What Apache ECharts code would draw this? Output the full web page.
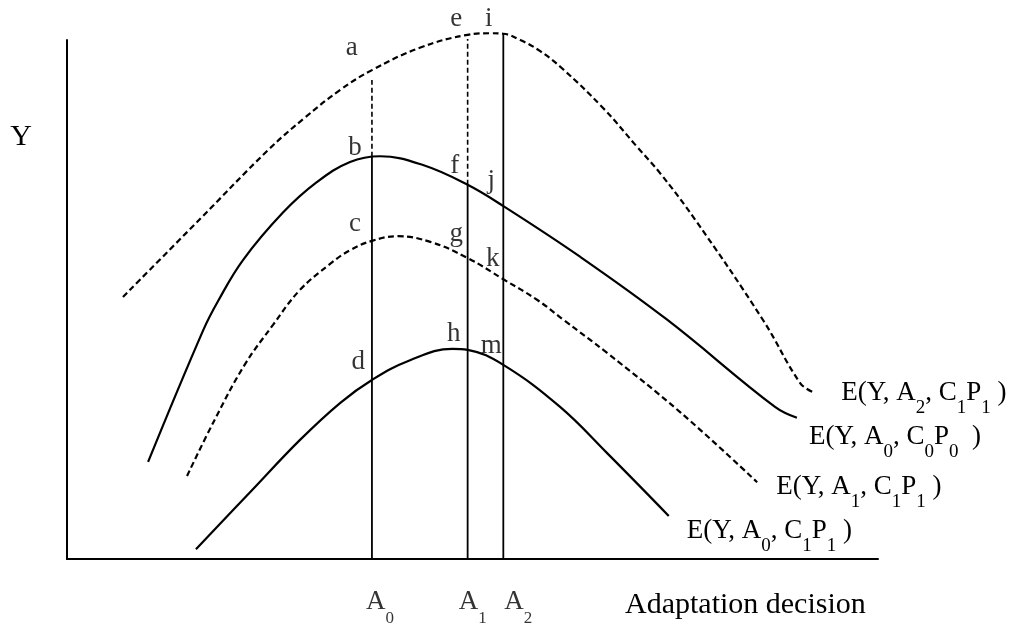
<!DOCTYPE html>
<html>
<head>
<meta charset="utf-8">
<title>Adaptation decision</title>
<script src="https://cdn.jsdelivr.net/npm/echarts@6/dist/echarts.min.js"></script>
<style>
  html, body { margin: 0; padding: 0; background: #fff; }
  #chart { width: 1017px; height: 625px; }
</style>
</head>
<body>
<div id="chart"></div>
<script>
const FONT = '"Liberation Serif", "Times New Roman", serif';

// E(Y, A2, C1P1) - upper dashed curve
const a2c1p1X = [6.9, 16.4, 24.8, 29.3, 33.7, 37.6, 43.5, 49.4, 52.2, 53.8, 55.9, 58.3, 61.0, 66.1, 70.3, 73.1, 77.4, 85.8, 90.4, 91.9];
const a2c1p1Y = [50.5, 65.5, 78.8, 85.0, 90.4, 94.2, 98.5, 101.0, 101.3, 101.2, 100.0, 97.9, 94.6, 86.9, 79.4, 74.4, 65.5, 46.1, 33.9, 32.2];

// E(Y, A0, C0P0) - solid curve
const a0c0p0X = [10.0, 16.8, 18.7, 21.7, 26.6, 30.8, 34.9, 38.6, 43.9, 49.4, 53.8, 63.3, 74.0, 87.3, 90.0];
const a0c0p0Y = [18.7, 44.1, 49.9, 57.6, 66.7, 72.6, 76.5, 77.6, 75.9, 72.1, 68.0, 58.2, 46.1, 29.3, 27.2];

// E(Y, A1, C1P1) - lower dashed curve
const a1c1p1X = [14.8, 18.2, 21.9, 25.4, 28.7, 32.4, 34.9, 37.6, 40.8, 44.8, 49.4, 53.8, 58.0, 61.2, 66.6, 75.6, 85.1];
const a1c1p1Y = [16.0, 26.8, 37.4, 45.1, 51.8, 56.8, 59.5, 61.3, 62.2, 61.1, 58.0, 53.9, 49.9, 46.1, 39.7, 28.3, 14.8];

// E(Y, A0, C1P1) - lowest solid curve
const a0c1p1X = [15.9, 22.6, 28.7, 33.7, 37.6, 42.3, 47.5, 49.4, 53.8, 60.8, 66.6, 74.2];
const a0c1p1Y = [1.9, 12.9, 22.9, 30.1, 34.5, 38.3, 40.5, 40.3, 37.4, 29.3, 20.4, 8.3];

// adaptation decisions A0, A1, A2 on the x axis
const decisionValues = [37.6, 49.4, 53.8];
const decisionLabels = ['A0', 'A1', 'A2'];
const solidTops = [77.5, 72.1, 101.2];
const dashedTops = [92.3, 100.2, null];

// letters marking the intersections
const pointNames = ['a', 'b', 'c', 'd', 'e', 'i', 'f', 'j', 'g', 'k', 'h', 'm'];
const pointX = [35.1, 35.5, 35.5, 35.9, 48.0, 52.0, 47.8, 52.3, 48.0, 52.5, 47.7, 52.3];
const pointY = [98.5, 79.2, 64.5, 38.0, 104.0, 104.0, 75.7, 72.8, 62.6, 57.8, 43.4, 41.0];

const zip = (xs, ys) => xs.map((x, i) => [x, ys[i]]);

/**
 * @description one curve with its label at the end
 */
function curveSeries(name, xs, ys, dashed, label, offset) {
  return {
    name: name,
    type: 'line',
    data: zip(xs, ys),
    smooth: 0.4,
    symbol: 'none',
    clip: false,
    silent: true,
    lineStyle: { color: '#000', width: 2.2, type: dashed ? [6, 3.5] : 'solid' },
    endLabel: {
      show: true,
      formatter: label,
      distance: 0,
      offset: offset,
      color: '#000',
      fontFamily: FONT,
      fontSize: 27,
      lineHeight: 30,
      verticalAlign: 'middle',
      rich: {
        s: { fontFamily: FONT, fontSize: 19, lineHeight: 30, verticalAlign: 'middle', padding: [30, 0, 0, 0], color: '#000' }
      }
    }
  };
}

/**
 * @description vertical segment at a decision value
 */
function segment(x, y0, y1, dashed) {
  return {
    type: 'line',
    data: [[x, y0], [x, y1]],
    symbol: 'none',
    clip: false,
    silent: true,
    lineStyle: { color: '#000', width: dashed ? 1.6 : 1.8, type: dashed ? [5, 3] : 'solid' }
  };
}

const series = [
  curveSeries('E(Y, A2, C1P1)', a2c1p1X, a2c1p1Y, true, 'E(Y, A{s|2}, C{s|1}P{s|1} )', [29, 1]),
  curveSeries('E(Y, A0, C0P0)', a0c0p0X, a0c0p0Y, false, 'E(Y, A{s|0}, C{s|0}P{s|0}  )', [12, 19]),
  curveSeries('E(Y, A1, C1P1)', a1c1p1X, a1c1p1Y, true, 'E(Y, A{s|1}, C{s|1}P{s|1} )', [19, 5]),
  curveSeries('E(Y, A0, C1P1)', a0c1p1X, a0c1p1Y, false, 'E(Y, A{s|0}, C{s|1}P{s|1} )', [18, 15])
];

decisionValues.forEach((x, i) => {
  series.push(segment(x, 0, solidTops[i], false));
  if (dashedTops[i] !== null) {
    series.push(segment(x, solidTops[i], dashedTops[i], true));
  }
});

// intersection letters
series.push({
  type: 'scatter',
  symbolSize: 0,
  clip: false,
  silent: true,
  data: pointX.map((x, i) => [x, pointY[i], pointNames[i]]),
  label: {
    show: true,
    position: 'inside',
    formatter: p => p.value[2],
    fontFamily: FONT,
    fontSize: 27,
    color: '#000'
  }
});

// A0 / A1 / A2 under the axis (A2 sits a bit to the right of its line)
const tickShift = [8, 5, 15];
series.push({
  type: 'scatter',
  symbolSize: 0,
  clip: false,
  silent: true,
  data: decisionValues.map((x, i) => ({
    value: [x, 0, decisionLabels[i]],
    label: { offset: [tickShift[i], 0] }
  })),
  label: {
    show: true,
    position: 'bottom',
    distance: 43,
    formatter: p => p.value[2].charAt(0) + '{s|' + p.value[2].slice(1) + '}',
    fontFamily: FONT,
    fontSize: 27,
    lineHeight: 30,
    verticalAlign: 'middle',
    color: '#000',
    rich: {
      s: { fontFamily: FONT, fontSize: 17, lineHeight: 30, verticalAlign: 'middle', padding: [34, 0, 0, 0], color: '#000' }
    }
  }
});

const option = {
  backgroundColor: '#fff',
  animation: false,
  grid: { left: 67, right: 139, top: 40, bottom: 66, outerBoundsMode: 'none' },
  xAxis: {
    type: 'value',
    min: 0,
    max: 100,
    axisLine: { show: true, lineStyle: { color: '#000', width: 2 } },
    axisTick: { show: false },
    splitLine: { show: false },
    axisLabel: { show: false }
  },
  yAxis: {
    type: 'value',
    min: 0,
    max: 100,
    axisLine: { show: true, lineStyle: { color: '#000', width: 2 } },
    axisTick: { show: false },
    splitLine: { show: false },
    axisLabel: { show: false }
  },
  graphic: [
    {
      type: 'text', x: 21, y: 137,
      style: { text: 'Y', font: '30px ' + FONT, fill: '#000', align: 'center', verticalAlign: 'middle', textAlign: 'center', textVerticalAlign: 'middle' }
    },
    {
      type: 'text', x: 625, y: 605,
      style: { text: 'Adaptation decision', font: '30px ' + FONT, fill: '#000', align: 'left', verticalAlign: 'middle', textAlign: 'left', textVerticalAlign: 'middle' }
    }
  ],
  series: series
};

const myChart = echarts.init(document.getElementById('chart'));
myChart.setOption(option);
</script>
</body>
</html>
